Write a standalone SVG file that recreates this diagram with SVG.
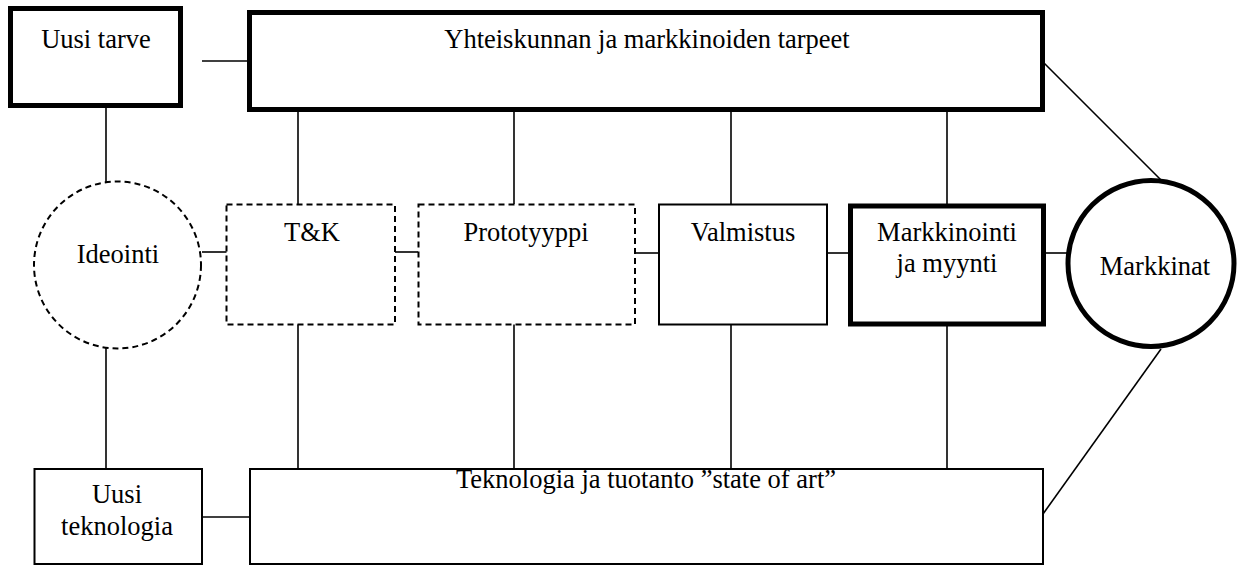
<svg xmlns="http://www.w3.org/2000/svg" width="1239" height="565" viewBox="0 0 1239 565">
  <style>
    text { font-family: "Liberation Serif", "DejaVu Serif", serif; font-size: 26.5px; fill: #000; text-anchor: middle; }
    .thin { fill: #fff; stroke: #000; stroke-width: 2; }
    .bold { fill: #fff; stroke: #000; stroke-width: 5; }
    .dash { fill: #fff; stroke: #000; stroke-width: 2; stroke-dasharray: 6 4; }
    .conn line { stroke: #000; stroke-width: 1.6; }
  </style>
  <rect width="1239" height="565" fill="#fff"/>

  <!-- connectors -->
  <g id="connectors" class="conn">
    <line x1="202" y1="61" x2="250" y2="61"/>
    <line x1="106" y1="107" x2="106" y2="182"/>
    <line x1="106" y1="348" x2="106" y2="469"/>
    <line x1="202" y1="252" x2="227" y2="252"/>
    <line x1="395" y1="252" x2="418" y2="252"/>
    <line x1="635" y1="253" x2="659" y2="253"/>
    <line x1="827" y1="253" x2="848" y2="253"/>
    <line x1="1045" y1="253" x2="1068" y2="253"/>
    <line x1="298" y1="110" x2="298" y2="204"/>
    <line x1="514" y1="110" x2="514" y2="204"/>
    <line x1="731" y1="110" x2="731" y2="204"/>
    <line x1="947" y1="110" x2="947" y2="204"/>
    <line x1="298" y1="324" x2="298" y2="469"/>
    <line x1="514" y1="324" x2="514" y2="469"/>
    <line x1="731" y1="324" x2="731" y2="469"/>
    <line x1="947" y1="324" x2="947" y2="469"/>
    <line x1="202" y1="517" x2="250" y2="517"/>
    <line x1="1044" y1="63" x2="1161" y2="180"/>
    <line x1="1043" y1="514" x2="1161" y2="349"/>
  </g>

  <g id="uusi-tarve">
    <rect class="bold" x="10.5" y="8.5" width="170" height="97"/>
    <text x="96" y="48">Uusi tarve</text>
  </g>

  <g id="tarpeet">
    <rect class="bold" x="249.5" y="12.5" width="793" height="97"/>
    <text x="647" y="48">Yhteiskunnan ja markkinoiden tarpeet</text>
  </g>

  <g id="ideointi">
    <circle class="dash" cx="117.5" cy="265" r="83.5"/>
    <text x="118" y="263">Ideointi</text>
  </g>

  <g id="tk">
    <rect class="dash" x="226.5" y="204.5" width="168.5" height="120"/>
    <text x="312" y="241">T&amp;K</text>
  </g>

  <g id="prototyyppi">
    <rect class="dash" x="418.5" y="204.5" width="216.5" height="120"/>
    <text x="526" y="241">Prototyyppi</text>
  </g>

  <g id="valmistus">
    <rect class="thin" x="659" y="204.5" width="168" height="120"/>
    <text x="743" y="241">Valmistus</text>
  </g>

  <g id="markkinointi">
    <rect class="bold" x="850.5" y="206" width="193" height="118"/>
    <text x="947" y="241">Markkinointi</text>
    <text x="947" y="272">ja myynti</text>
  </g>

  <g id="markkinat">
    <circle class="bold" cx="1151" cy="263.5" r="83"/>
    <text x="1155" y="275">Markkinat</text>
  </g>

  <g id="uusi-teknologia">
    <rect class="thin" x="34.5" y="469" width="167.5" height="95"/>
    <text x="117" y="503">Uusi</text>
    <text x="117" y="535">teknologia</text>
  </g>

  <g id="teknologia">
    <rect class="thin" x="250" y="469" width="793" height="95"/>
    <text x="646" y="488">Teknologia ja tuotanto ”state of art”</text>
  </g>
</svg>
